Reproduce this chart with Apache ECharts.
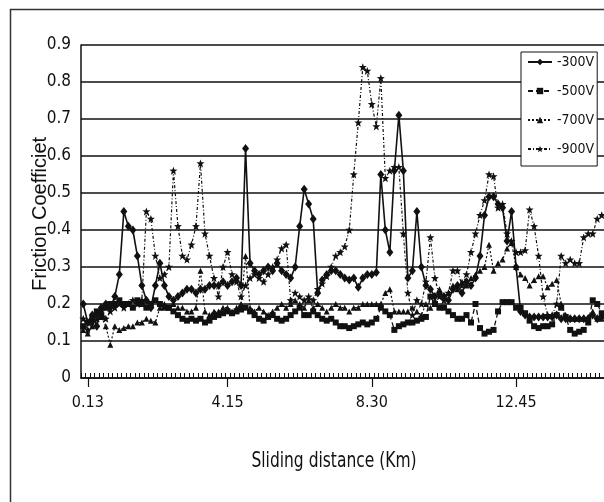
<!DOCTYPE html>
<html><head><meta charset="utf-8">
<script src="https://cdn.jsdelivr.net/npm/echarts@6/dist/echarts.min.js"></script>
<style>html,body{margin:0;padding:0;background:#fff}#c{width:604px;height:502px}</style>
</head><body><div id="c"></div>
<script>
const categories = ['0.00','0.13','0.26','0.39','0.52','0.65','0.78','0.91','1.04','1.17','1.30','1.43','1.56','1.69','1.82','1.95','2.08','2.20','2.33','2.46','2.59','2.72','2.85','2.98','3.11','3.24','3.37','3.50','3.63','3.76','3.89','4.02','4.15','4.28','4.41','4.54','4.67','4.80','4.93','5.06','5.19','5.32','5.45','5.58','5.71','5.84','5.97','6.10','6.23','6.35','6.48','6.61','6.74','6.87','7.00','7.13','7.26','7.39','7.52','7.65','7.78','7.91','8.04','8.17','8.30','8.43','8.56','8.69','8.82','8.95','9.08','9.21','9.34','9.47','9.60','9.73','9.86','9.99','10.12','10.25','10.38','10.50','10.63','10.76','10.89','11.02','11.15','11.28','11.41','11.54','11.67','11.80','11.93','12.06','12.19','12.32','12.45','12.58','12.71','12.84','12.97','13.10','13.23','13.36','13.49','13.62','13.75','13.88','14.01','14.14','14.27','14.40','14.53','14.65','14.78','14.91'];
const labelIdx = [1, 32, 64, 96];
const yTickLabels = ['0','0.1','0.2','0.3','0.4','0.5','0.6','0.7','0.8','0.9'];
const seriesNames = ['-300V','-500V','-700V','-900V'];

const s300 = [0.20,0.15,0.17,0.14,0.19,0.20,0.19,0.22,0.28,0.45,0.41,0.40,0.33,0.25,0.21,0.19,0.25,0.31,0.25,0.22,
0.21,0.22,0.23,0.24,0.24,0.23,0.24,0.24,0.25,0.25,0.25,0.26,0.25,0.26,0.27,0.25,0.62,0.31,0.29,0.28,
0.29,0.30,0.29,0.31,0.29,0.28,0.27,0.30,0.41,0.51,0.47,0.43,0.23,0.265,0.28,0.29,0.29,0.28,0.27,0.265,
0.27,0.245,0.27,0.28,0.28,0.285,0.55,0.40,0.34,0.56,0.71,0.56,0.27,0.29,0.45,0.30,0.25,0.24,0.22,0.23,
0.22,0.21,0.24,0.25,0.23,0.26,0.25,0.27,0.33,0.44,0.49,0.49,0.47,0.46,0.37,0.45,0.30,0.18,0.17,0.165,
0.165,0.165,0.165,0.165,0.165,0.17,0.16,0.16,0.16,0.16,0.16,0.16,0.16,0.17,0.16,0.165];

const s500 = [0.14,0.15,0.16,0.18,0.17,0.19,0.20,0.20,0.21,0.20,0.20,0.19,0.21,0.20,0.19,0.20,0.21,0.20,0.19,0.19,
0.18,0.17,0.16,0.155,0.16,0.155,0.16,0.15,0.155,0.165,0.17,0.175,0.18,0.175,0.18,0.185,0.19,0.18,0.17,0.16,
0.155,0.165,0.17,0.16,0.155,0.16,0.17,0.18,0.19,0.17,0.17,0.18,0.17,0.16,0.155,0.16,0.15,0.14,0.14,0.135,
0.14,0.145,0.15,0.145,0.15,0.16,0.19,0.18,0.17,0.13,0.14,0.145,0.15,0.15,0.155,0.16,0.165,0.22,0.20,0.19,
0.19,0.18,0.17,0.16,0.16,0.17,0.15,0.20,0.135,0.12,0.125,0.13,0.18,0.205,0.205,0.205,0.19,0.19,0.175,0.155,
0.14,0.135,0.14,0.14,0.145,0.17,0.19,0.165,0.13,0.12,0.125,0.13,0.15,0.21,0.20,0.175];

const s700 = [0.13,0.12,0.14,0.16,0.165,0.14,0.09,0.14,0.13,0.135,0.14,0.14,0.15,0.15,0.16,0.155,0.15,0.19,0.20,0.19,
0.20,0.19,0.19,0.18,0.18,0.19,0.29,0.18,0.17,0.18,0.18,0.19,0.19,0.18,0.19,0.20,0.33,0.19,0.18,0.19,
0.18,0.17,0.18,0.19,0.20,0.19,0.20,0.21,0.20,0.19,0.21,0.19,0.20,0.19,0.18,0.19,0.20,0.19,0.19,0.18,
0.19,0.19,0.20,0.20,0.20,0.20,0.20,0.23,0.24,0.18,0.18,0.18,0.18,0.19,0.18,0.17,0.20,0.19,0.21,0.24,
0.22,0.23,0.25,0.24,0.26,0.25,0.27,0.28,0.29,0.30,0.36,0.29,0.31,0.32,0.35,0.365,0.30,0.28,0.27,0.25,
0.265,0.275,0.275,0.245,0.255,0.265,0.20,0.17,0.16,0.16,0.16,0.16,0.165,0.18,0.16,0.16];

const s900 = [0.16,0.13,0.15,0.17,0.18,0.16,0.18,0.19,0.20,0.19,0.20,0.21,0.20,0.21,0.45,0.43,0.33,0.27,0.28,0.30,
0.56,0.41,0.33,0.32,0.36,0.41,0.58,0.39,0.33,0.27,0.22,0.30,0.34,0.28,0.26,0.22,0.25,0.27,0.28,0.27,
0.26,0.28,0.30,0.32,0.35,0.36,0.21,0.23,0.22,0.21,0.22,0.21,0.24,0.255,0.275,0.30,0.33,0.34,0.355,0.40,
0.55,0.69,0.84,0.83,0.74,0.68,0.81,0.54,0.56,0.57,0.57,0.39,0.23,0.17,0.21,0.20,0.26,0.38,0.27,0.22,
0.21,0.23,0.29,0.29,0.25,0.28,0.34,0.39,0.44,0.48,0.55,0.545,0.46,0.47,0.39,0.37,0.34,0.34,0.345,0.455,
0.41,0.33,0.22,0.17,0.17,0.20,0.33,0.31,0.32,0.31,0.31,0.38,0.39,0.39,0.43,0.44];

const narrow = "'Liberation Sans Narrow','DejaVu Sans Condensed','Arial Narrow',sans-serif";
const regular = "'Liberation Sans',Arial,sans-serif";
const G = {left: 81, top: 45, width: 525.5, height: 333};
const starPath = 'path://M0,-5L1.3,-1.6L5,-1.5L2.1,0.9L3.1,4.8L0,2.6L-3.1,4.8L-2.1,0.9L-5,-1.5L-1.3,-1.6Z';
const isLabel = (i) => labelIdx.indexOf(i) >= 0;

const chart = echarts.init(document.getElementById('c'), null, {renderer: 'canvas'});
const mk = (name, data, symbol, size, type, width) => ({
  name, type: 'line', xAxisIndex: 0, yAxisIndex: 0, data,
  symbol, symbolSize: size, showSymbol: true, showAllSymbol: true,
  lineStyle: {color: '#111', width, type},
  itemStyle: {color: '#111', borderWidth: 0},
  emphasis: {disabled: true}
});
chart.setOption({
  animation: false,
  backgroundColor: '#fff',
  grid: [Object.assign({show: false}, G), Object.assign({show: false}, G)],
  xAxis: [
    {gridIndex: 0, type: 'category', data: categories, boundaryGap: true,
     axisLine: {lineStyle: {color: '#111', width: 1.5}},
     axisTick: {show: true, inside: true, length: 5, interval: 0, lineStyle: {color: '#111', width: 1}},
     axisLabel: {show: false}, splitLine: {show: false}},
    {gridIndex: 1, type: 'category', data: categories, boundaryGap: true,
     axisLine: {show: false},
     axisTick: {show: true, inside: false, length: 9, alignWithLabel: true, interval: isLabel,
                lineStyle: {color: '#111', width: 1.2}},
     axisLabel: {show: true, interval: isLabel, margin: 17, fontFamily: narrow, fontSize: 16, color: '#111'},
     splitLine: {show: false}}
  ],
  yAxis: [
    {gridIndex: 0, type: 'value', min: 0, max: 0.9, interval: 0.1,
     axisLine: {show: true, lineStyle: {color: '#111', width: 1.5}},
     axisTick: {show: false},
     axisLabel: {margin: 10, fontFamily: narrow, fontSize: 17, color: '#111',
                 formatter: (v) => yTickLabels[Math.round(v * 10)]},
     splitLine: {show: true, lineStyle: {color: '#111', width: 1.5}}},
    {gridIndex: 1, type: 'value', min: 0, max: 0.9, show: false}
  ],
  legend: {
    orient: 'vertical', left: 521, top: 52, padding: [1, 3, 8, 6], itemGap: 11,
    itemWidth: 24, itemHeight: 8, borderColor: '#111', borderWidth: 1, backgroundColor: '#fff',
    textStyle: {fontFamily: narrow, fontSize: 14, color: '#111', lineHeight: 18},
    data: seriesNames
  },
  graphic: [
    {type: 'rect', left: 8, top: 7, shape: {width: 640, height: 540}, silent: true, z: -10,
     style: {fill: null, stroke: '#333', lineWidth: 1.5}},
    {type: 'text', x: 40, y: 214, rotation: Math.PI / 2, silent: true,
     style: {text: 'Friction Coefficiet', font: '20px ' + regular, fill: '#111', align: 'center', verticalAlign: 'middle'}},
    {type: 'text', x: 334, y: 462, scaleX: 0.82, silent: true,
     style: {text: 'Sliding distance (Km)', font: '21px ' + narrow, fill: '#111', align: 'center', verticalAlign: 'middle'}}
  ],
  series: [
    mk(seriesNames[0], s300, 'diamond', [7, 9], 'solid', 1.6),
    mk(seriesNames[1], s500, 'rect', 6, [5, 3], 1.3),
    mk(seriesNames[2], s700, 'triangle', 6, [2, 2], 1.2),
    mk(seriesNames[3], s900, starPath, 8, [3, 2, 1, 2], 1.2)
  ]
});
</script></body></html>
